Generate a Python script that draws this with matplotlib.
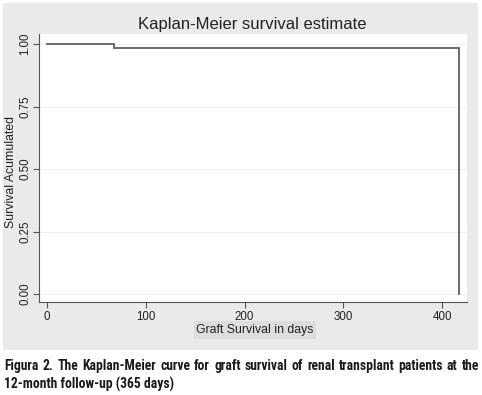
import matplotlib
matplotlib.use("Agg")
import matplotlib.pyplot as plt
from matplotlib.patches import Rectangle

# Kaplan-Meier estimate
km_days = [0, 68, 417]
km_survival = [1.0, 0.985, 0.0]

x_ticks = [0, 100, 200, 300, 400]
y_ticks = [0.0, 0.25, 0.50, 0.75, 1.0]
y_tick_labels = ["0.00", "0.25", "0.50", "0.75", "1.00"]

title = "Kaplan-Meier survival estimate"
x_label = "Graft Survival in days"
y_label = "Survival Acumulated"
caption_line1 = "Figura 2. The Kaplan-Meier curve for graft survival of renal transplant patients at the"
caption_line2 = "12-month follow-up (365 days)"

W, H = 482, 395
plt.rcParams["font.family"] = ["Liberation Sans", "DejaVu Sans"]
fig = plt.figure(figsize=(W / 100, H / 100), dpi=100)
fig.patch.set_facecolor("white")

# gray graph region (Stata style)
fig.patches.append(Rectangle((3 / W, 1 - 350 / H), 475 / W, 347 / H,
                             transform=fig.transFigure, facecolor="#eaeaea",
                             edgecolor="none", zorder=-10))

ax = fig.add_axes([38.5 / W, 1 - 302 / H, (467 - 38.5) / W, (302 - 34) / H])
ax.set_zorder(2)
ax.set_facecolor("white")

ax.step(km_days, km_survival, where="post", color="#5f5f5f", lw=1.3,
        solid_joinstyle="miter", zorder=3)

ax.set_xlim(-8.6, 425.3)
ax.set_ylim(-0.032, 1.04)
ax.set_xticks(x_ticks)
ax.set_yticks(y_ticks)
ax.set_yticklabels(y_tick_labels, rotation=90, va="center")
ax.tick_params(axis="both", direction="out", length=4, width=0.8,
               color="#555555", labelsize=8.3, labelcolor="#222222", pad=2.5)
ax.tick_params(axis="y", pad=1)

ax.yaxis.grid(True, color="#efefef", lw=0.8)
ax.set_axisbelow(True)
for side in ["top", "right"]:
    ax.spines[side].set_visible(False)
for side in ["left", "bottom"]:
    ax.spines[side].set_color("#555555")
    ax.spines[side].set_linewidth(0.8)

fig.text(252 / W, 1 - 25 / H, title, ha="center", va="center",
         fontsize=12, color="#222222")
fig.text(255 / W, 1 - 330 / H, x_label, ha="center", va="center",
         fontsize=8.8, color="#222222",
         bbox=dict(facecolor="#dddddd", edgecolor="none", pad=2))
fig.text(11 / W, 1 - 172 / H, y_label, ha="center", va="center",
         rotation=90, fontsize=8.8, color="#222222")

# caption: shrink the font until line 1 fits, then justify it
cap_family = ["Liberation Sans Narrow", "DejaVu Sans Condensed",
              "Roboto Condensed", "Liberation Sans"]
left, right = 4, 479
renderer = fig.canvas.get_renderer()
base_size = 12
probe = fig.text(0, 0, caption_line1, family=cap_family, weight="bold",
                 fontsize=base_size)
natural = probe.get_window_extent(renderer).width
probe.remove()
cap_size = min(base_size, base_size * (right - left) / natural * 0.98)
cap_font = dict(family=cap_family, weight="bold", fontsize=cap_size,
                color="#1a1a1a")

words = caption_line1.split()
texts = [fig.text(0, 1 - 366 / H, w, ha="left", va="center", **cap_font)
         for w in words]
widths = [t.get_window_extent(renderer).width for t in texts]
gap = (right - left - sum(widths)) / (len(words) - 1)
x = left
for t, w in zip(texts, widths):
    t.set_x(x / W)
    x += w + gap
fig.text(left / W, 1 - 384 / H, caption_line2, ha="left", va="center",
         **cap_font)

fig.savefig("out.png", dpi=100)
